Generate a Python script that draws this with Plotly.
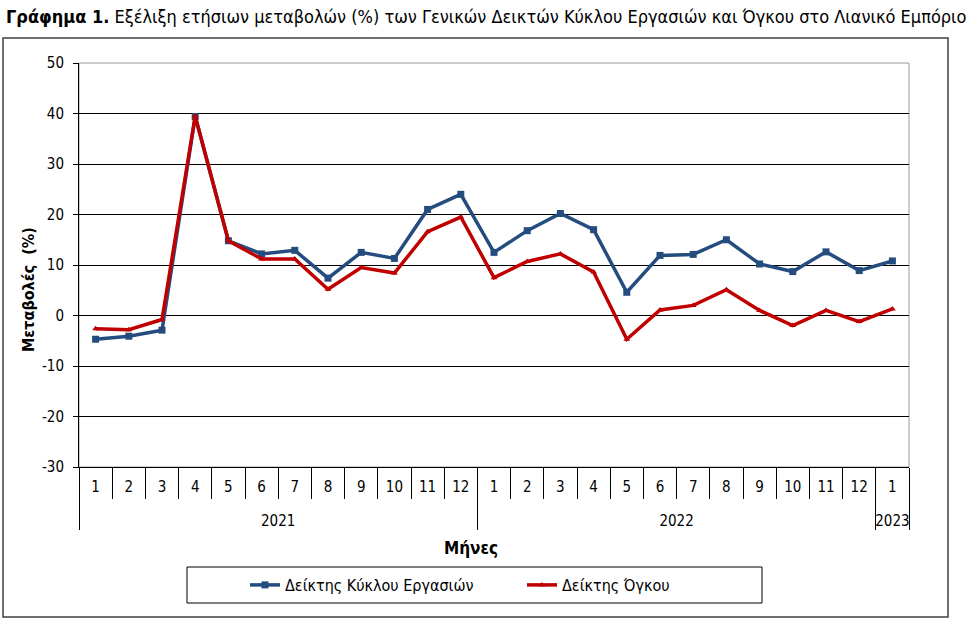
import plotly.graph_objects as go

# Annual change (%) of retail trade indices, Jan 2021 - Jan 2023
years = ["<br>2021"] * 12 + ["<br>2022"] * 12 + ["<br>2023"]
months = [str(m) for m in range(1, 13)] * 2 + ["1"]

turnover = [-4.7, -4.1, -2.9, 39.4, 14.8, 12.2, 12.9, 7.4, 12.5, 11.3, 21.0, 24.0,
            12.5, 16.8, 20.2, 17.0, 4.6, 11.9, 12.1, 15.0, 10.2, 8.7, 12.6, 8.9,
            10.8]
volume = [-2.6, -2.8, -0.8, 39.5, 14.8, 11.2, 11.2, 5.2, 9.5, 8.4, 16.6, 19.5,
          7.5, 10.7, 12.2, 8.6, -4.7, 1.1, 2.0, 5.1, 1.0, -2.0, 1.0, -1.2,
          1.3]

y_ticks = [-30, -20, -10, 0, 10, 20, 30, 40, 50]
y_labels = ["-30", "-20", "-10", "0", "10", "20", "30", "40", "50"]

names = ["Δείκτης Κύκλου Εργασιών", "Δείκτης Όγκου"]
title = "<b>Γράφημα 1.</b> Εξέλιξη ετήσιων μεταβολών (%) των Γενικών Δεικτών Κύκλου Εργασιών και Όγκου στο Λιανικό Εμπόριο"

FONT = "Liberation Sans Narrow, DejaVu Sans Condensed, Open Sans, sans-serif"
W, H = 967, 620
L, R, T, B = 79, 58, 63, 153
pw, ph = W - L - R, H - T - B


def px(x):
    return (x - L) / pw


def py(y):
    return (H - B - y) / ph


fig = go.Figure()
fig.add_trace(go.Scatter(x=[years, months], y=turnover, name=names[0], mode="lines+markers",
                         line=dict(color="#244C7E", width=3.5),
                         marker=dict(symbol="square", size=7, color="#244C7E")))
fig.add_trace(go.Scatter(x=[years, months], y=volume, name=names[1], mode="lines+markers",
                         line=dict(color="#C00000", width=3.5),
                         marker=dict(symbol="triangle-up", size=6, color="#C00000")))

fig.update_layout(
    width=W, height=H,
    margin=dict(l=L, r=R, t=T, b=B),
    paper_bgcolor="white", plot_bgcolor="white",
    font=dict(family=FONT, size=14, color="black"),
    showlegend=True,
    legend=dict(orientation="h", x=px(245), y=py(585), xanchor="left", yanchor="middle",
                bgcolor="rgba(0,0,0,0)", borderwidth=0, entrywidth=232,
                itemwidth=30, font=dict(family=FONT, size=16)),
)

fig.update_yaxes(range=[-30, 50], tickmode="array", tickvals=y_ticks, ticktext=y_labels,
                 showgrid=True, gridcolor="black", gridwidth=1,
                 zeroline=False, showline=True, linecolor="black", linewidth=1,
                 ticks="outside", ticklen=5, tickcolor="black", ticklabelstandoff=6,
                 tickfont=dict(size=15))
fig.update_xaxes(type="multicategory", range=[-0.5, 24.5], showgrid=False, showline=True,
                 linecolor="black", linewidth=1, ticks="outside", tickson="boundaries",
                 ticklen=31, tickcolor="black", showdividers=True, dividercolor="black",
                 dividerwidth=1, ticklabelstandoff=6, tickfont=dict(size=15))

shapes = [
    # gray frame of plot area
    dict(type="rect", xref="x domain", yref="y domain", x0=0, x1=1, y0=0, y1=1,
         line=dict(color="#9A9A9A", width=1), layer="below"),
    # outer chart frame
    dict(type="rect", xref="paper", yref="paper", x0=px(3), x1=px(948), y0=py(617), y1=py(38),
         line=dict(color="#404040", width=1.5)),
    # legend frame
    dict(type="rect", xref="paper", yref="paper", x0=px(187), x1=px(762), y0=py(603), y1=py(567),
         line=dict(color="black", width=1)),
]
fig.update_layout(shapes=shapes)

fig.add_annotation(text=title, xref="paper", yref="paper", x=px(4), y=py(17),
                   xanchor="left", yanchor="middle", showarrow=False,
                   font=dict(family=FONT, size=18))
fig.add_annotation(text="<b>Μεταβολές  (%)</b>", xref="paper", yref="paper", x=px(28), y=py(290),
                   xanchor="center", yanchor="middle",
                   textangle=-90, showarrow=False, font=dict(family=FONT, size=16))
fig.add_annotation(text="<b>Μήνες</b>", xref="paper", yref="paper", x=px(471), y=py(548),
                   xanchor="center", yanchor="middle",
                   showarrow=False, font=dict(family=FONT, size=17))

fig.write_html("out.html", config={"displayModeBar": False},
               post_script="document.body.style.margin='0';")
